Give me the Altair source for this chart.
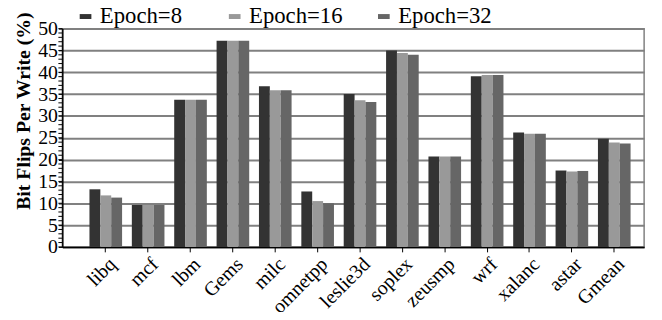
import altair as alt
import pandas as pd

benchmarks = ["libq", "mcf", "lbm", "Gems", "milc", "omnetpp", "leslie3d",
              "soplex", "zeusmp", "wrf", "xalanc", "astar", "Gmean"]
epoch8 = [13.2, 9.6, 33.7, 47.2, 36.8, 12.7, 35.0, 45.0, 20.7, 39.1, 26.2, 17.5, 24.8]
epoch16 = [11.8, 9.6, 33.7, 47.2, 35.9, 10.5, 33.6, 44.4, 20.7, 39.4, 25.9, 17.3, 23.9]
epoch32 = [11.3, 9.6, 33.7, 47.2, 35.9, 10.0, 33.2, 44.0, 20.7, 39.4, 25.9, 17.4, 23.7]
series = ["Epoch=8", "Epoch=16", "Epoch=32"]
colors = ["#333333", "#999999", "#666666"]
y_ticks = list(range(0, 55, 5))
minor_ticks = list(range(0, 51))

rows = []
for s, vals in zip(series, [epoch8, epoch16, epoch32]):
    for b, v in zip(benchmarks, vals):
        rows.append({"bench": b, "series": s, "value": v})
df = pd.DataFrame(rows)

FONT = "Liberation Serif"

y_axis = alt.Axis(title="Bit Flips Per Write (%)", values=y_ticks,
                  titleFontSize=20, titleFontWeight="bold",
                  titleColor="black", titlePadding=4, titleY=83,
                  labelFontSize=20, labelColor="black",
                  labelPadding=1, tickSize=4, tickColor="black",
                  labelOverlap=False, labelFlush=False,
                  domainColor="black", domainWidth=1.5,
                  gridColor="#808080", gridWidth=2, gridOpacity=1)
y_scale = alt.Scale(domain=[0, 50], nice=False)

bars = alt.Chart(df).mark_bar().encode(
    x=alt.X("bench:N", sort=benchmarks,
            scale=alt.Scale(paddingInner=0.23, paddingOuter=0.48, align=0.667),
            axis=alt.Axis(title=None, labelAngle=-45, labelFontSize=20,
                          labelColor="black", domainColor="black", domainWidth=1.5,
                          tickColor="black", tickSize=5, labelPadding=2, grid=False,
                          labelOverlap=False)),
    xOffset=alt.XOffset("series:N", sort=series),
    y=alt.Y("value:Q", scale=y_scale, axis=y_axis),
    color=alt.Color("series:N", sort=series,
                    scale=alt.Scale(domain=series, range=colors),
                    legend=alt.Legend(title=None, orient="none", direction="horizontal",
                                      legendX=12, legendY=-24, padding=0,
                                      labelFontSize=23, labelColor="black",
                                      labelLimit=300,
                                      symbolType="M-1,-0.42L1,-0.42L1,0.42L-1,0.42Z",
                                      symbolSize=140, symbolStrokeWidth=0,
                                      labelOffset=3, columnPadding=30, gridAlign="all")),
)

minor = alt.Chart(pd.DataFrame({"v": minor_ticks})).mark_rule(color="black", strokeWidth=1).encode(
    y=alt.Y("v:Q", scale=y_scale, axis=y_axis),
    x=alt.value(-4),
    x2=alt.value(0),
)

chart = alt.layer(bars, minor).properties(
    width=589, height=221,
    autosize=alt.AutoSizeParams(type="none"),
    padding={"left": 55, "top": 19, "right": 10, "bottom": 64},
).configure(font=FONT).configure_axis(
    labelFont=FONT, titleFont=FONT
).configure_legend(labelFont=FONT).configure_view(stroke="#808080", strokeWidth=1.5)

chart.save("out.html", embed_options={"renderer": "svg", "actions": False})
